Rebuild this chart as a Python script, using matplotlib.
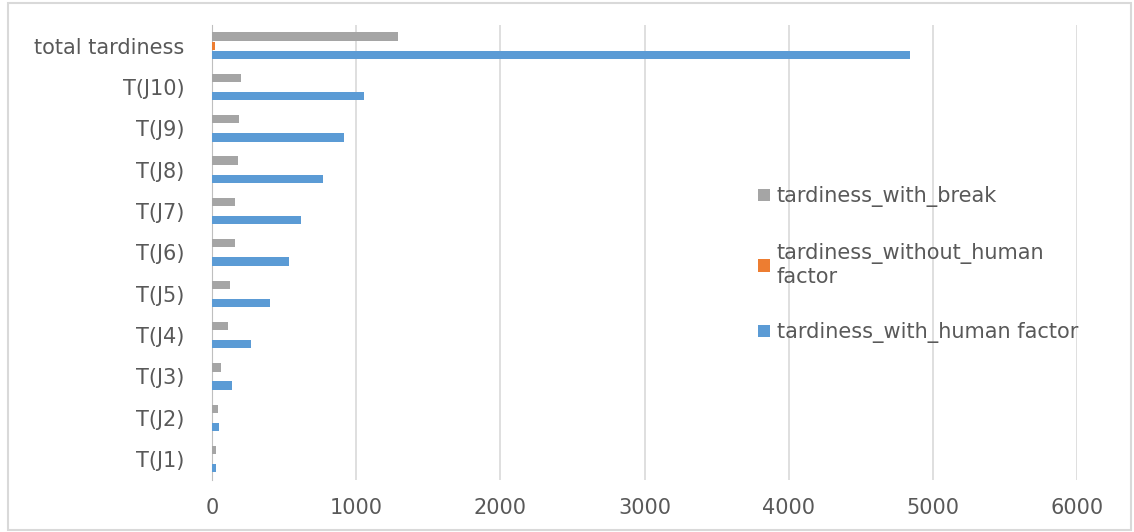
import numpy as np
import matplotlib.pyplot as plt
from matplotlib.patches import Rectangle

plt.rcParams['font.family'] = ['DejaVu Sans']

# Data
categories = ['T(J1)', 'T(J2)', 'T(J3)', 'T(J4)', 'T(J5)', 'T(J6)',
              'T(J7)', 'T(J8)', 'T(J9)', 'T(J10)', 'total tardiness']
with_human = [30, 48, 140, 270, 400, 533, 620, 772, 917, 1055, 4837]
without_human = [0, 0, 0, 0, 0, 0, 0, 0, 0, 0, 18]
with_break = [28, 40, 62, 110, 125, 160, 160, 181, 187, 200, 1290]

blue = '#5B9BD5'
orange = '#ED7D31'
gray = '#A5A5A5'
text_col = '#595959'

fig = plt.figure(figsize=(11.34, 5.32), dpi=100)
ax = fig.add_axes([0.187, 0.098, 0.763, 0.855])

y = np.arange(len(categories))
h = 0.2
ax.barh(y - 0.22, with_human, height=h, color=blue, label='tardiness_with_human factor', zorder=3)
ax.barh(y, without_human, height=h, color=orange, label='tardiness_without_human\nfactor', zorder=3)
ax.barh(y + 0.22, with_break, height=h, color=gray, label='tardiness_with_break', zorder=3)

ax.set_xlim(0, 6000)
ax.set_ylim(-0.5, 10.5)
ax.set_xticks(range(0, 6001, 1000))
ax.set_yticks(y)
ax.set_yticklabels(categories)
ax.grid(axis='x', color='#D9D9D9', linewidth=1.2, zorder=0)
for s in ['top', 'right', 'bottom']:
    ax.spines[s].set_visible(False)
ax.spines['left'].set_color('#BFBFBF')
ax.tick_params(axis='both', length=0, labelsize=15, colors=text_col)
ax.tick_params(axis='x', pad=13)
ax.tick_params(axis='y', pad=20)

handles, labels = ax.get_legend_handles_labels()
leg = fig.legend(handles[::-1], labels[::-1], loc='upper left',
                 bbox_to_anchor=(0.652, 0.685), frameon=False,
                 fontsize=15, labelcolor=text_col, handlelength=0.55,
                 handleheight=0.55, handletextpad=0.35, labelspacing=1.7)

# outer chart border
fig.patches.append(Rectangle((0.007, 0.004), 0.99, 0.99, transform=fig.transFigure,
                             fill=False, edgecolor='#D9D9D9', linewidth=1.5))

fig.savefig('out.png', dpi=100)
